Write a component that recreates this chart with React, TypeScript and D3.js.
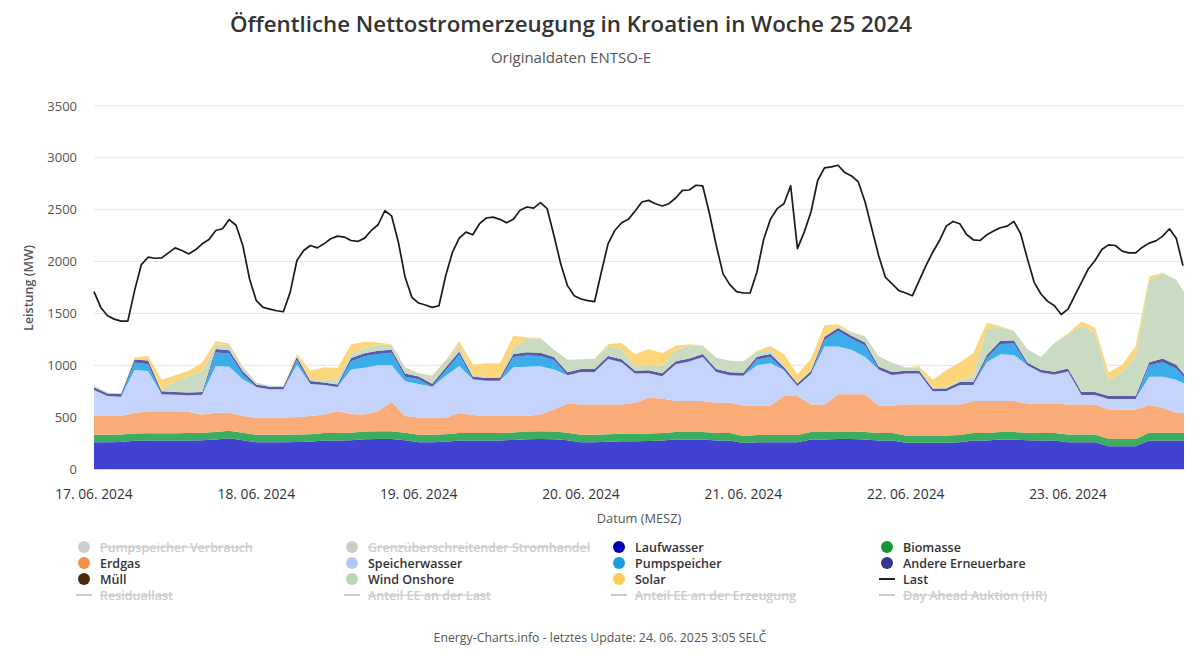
import { useEffect, useRef } from 'react'
import * as d3 from 'd3'

// Woche 25 2024, Kroatien (MW)
const stackStart = new Date(2024, 5, 17, 0)
const stackStepHours = 2
const lastStepHours = 1
const plotEnd = new Date(2024, 5, 23, 17, 9)

const laufwasser = [
  258, 258, 260, 272, 274, 274, 274, 276, 278, 284, 297, 277,
  258, 258, 258, 260, 262, 274, 276, 277, 288, 290, 290, 277,
  258, 258, 262, 274, 274, 276, 276, 280, 288, 290, 288, 277,
  258, 258, 262, 268, 268, 270, 276, 284, 284, 284, 275, 275,
  250, 258, 258, 258, 258, 284, 284, 290, 290, 284, 274, 274,
  252, 252, 252, 252, 258, 274, 274, 284, 284, 278, 276, 276,
  258, 258, 258, 219, 219, 219, 274, 274, 274, 274
]
const biomasse = [
  72, 72, 72, 70, 71, 71, 71, 71, 72, 72, 73, 73,
  72, 72, 72, 72, 72, 72, 72, 73, 74, 75, 75, 73,
  72, 72, 72, 72, 72, 72, 72, 72, 74, 75, 74, 73,
  72, 72, 72, 72, 72, 72, 72, 72, 72, 72, 73, 73,
  68, 71, 71, 71, 71, 72, 72, 72, 72, 72, 72, 72,
  70, 70, 70, 70, 71, 74, 74, 72, 72, 72, 72, 72,
  74, 74, 74, 71, 71, 71, 76, 76, 76, 76
]
const erdgas = [
  180, 180, 180, 200, 213, 213, 213, 203, 176, 186, 172, 160,
  164, 164, 164, 168, 176, 180, 210, 180, 164, 193, 280, 160,
  164, 164, 160, 194, 174, 162, 162, 158, 148, 161, 212, 282,
  293, 293, 289, 283, 299, 345, 332, 299, 299, 299, 291, 291,
  295, 284, 284, 374, 374, 267, 267, 358, 358, 364, 267, 267,
  301, 301, 301, 301, 294, 307, 307, 299, 299, 282, 284, 284,
  291, 291, 291, 284, 284, 284, 267, 240, 192, 190
]
const speicherwasser = [
  251, 193, 185, 413, 387, 162, 157, 160, 189, 452, 443, 355,
  296, 274, 274, 505, 310, 284, 232, 430, 451, 442, 355, 335,
  326, 300, 406, 454, 345, 340, 340, 470, 475, 464, 386, 273,
  312, 312, 437, 407, 281, 236, 215, 355, 381, 425, 296, 266,
  287, 387, 407, 252, 97, 294, 557, 460, 430, 360, 347, 294,
  297, 297, 127, 129, 187, 155, 375, 451, 445, 368, 298, 278,
  317, 91, 91, 101, 101, 101, 273, 300, 318, 260
]
const pumpspeicher = [
  0, 0, 0, 71, 65, 0, 0, 0, 0, 129, 129, 48,
  0, 0, 0, 45, 0, 0, 0, 80, 110, 110, 120, 45,
  45, 0, 50, 110, 0, 0, 0, 100, 110, 100, 90, 0,
  0, 0, 0, 0, 0, 0, 0, 0, 0, 0, 0, 0,
  0, 55, 60, 0, 0, 0, 65, 150, 105, 110, 0, 0,
  0, 0, 0, 0, 0, 0, 40, 100, 110, 0, 0, 0,
  0, 0, 0, 0, 0, 0, 110, 140, 110, 20
]
const andereErneuerbare = [
  28, 25, 25, 30, 35, 30, 28, 28, 28, 35, 30, 30,
  25, 25, 25, 30, 28, 25, 25, 30, 30, 30, 30, 30,
  28, 28, 28, 30, 28, 28, 28, 30, 30, 30, 30, 28,
  28, 28, 30, 28, 28, 28, 28, 28, 30, 28, 28, 28,
  28, 28, 30, 28, 25, 28, 30, 30, 30, 30, 28, 28,
  28, 28, 25, 25, 28, 28, 30, 30, 30, 28, 28, 28,
  28, 28, 28, 28, 28, 28, 30, 35, 35, 30
]
const windOnshore = [
  15, 8, 5, 3, 0, 15, 100, 160, 200, 40, 55, 40,
  20, 10, 8, 5, 10, 20, 60, 40, 50, 60, 45, 60,
  30, 80, 70, 60, 15, 10, 10, 60, 130, 140, 70, 120,
  95, 100, 95, 100, 40, 55, 70, 110, 125, 80, 110, 110,
  110, 45, 40, 15, 5, 10, 10, 15, 30, 60, 100, 90,
  30, 30, 10, 15, 20, 60, 250, 130, 90, 130, 120, 280,
  330, 640, 575, 150, 230, 380, 790, 820, 819, 770
]
const solar = [
  0, 0, 0, 15, 45, 95, 60, 50, 85, 35, 10, 5,
  0, 0, 0, 25, 90, 125, 100, 90, 60, 20, 5, 0,
  0, 0, 0, 40, 100, 130, 130, 114, 13, 5, 0, 0,
  0, 0, 18, 60, 116, 150, 125, 40, 12, 5, 0, 0,
  0, 10, 35, 110, 80, 110, 100, 20, 5, 0, 0, 0,
  0, 15, 75, 160, 168, 220, 60, 10, 0, 0, 0, 0,
  10, 40, 45, 80, 70, 100, 35, 7, 0, 0
]
const last = [
  1710, 1558, 1478, 1445, 1426, 1426, 1720, 1971, 2042, 2032, 2035, 2084, 2132, 2107, 2074, 2113, 2171, 2213, 2300, 2316, 2405, 2350, 2155, 1832,
  1623, 1558, 1542, 1526, 1516, 1703, 2010, 2107, 2155, 2132, 2171, 2220, 2245, 2236, 2203, 2194, 2226, 2300, 2355, 2490, 2440, 2187, 1848, 1655,
  1600, 1581, 1558, 1574, 1865, 2090, 2226, 2284, 2258, 2365, 2420, 2429, 2407, 2374, 2407, 2494, 2526, 2516, 2568, 2510, 2252, 1978, 1768, 1671,
  1639, 1623, 1613, 1897, 2171, 2300, 2374, 2407, 2487, 2574, 2590, 2558, 2536, 2558, 2613, 2687, 2690, 2736, 2729, 2461, 2155, 1881, 1778, 1710,
  1697, 1697, 1897, 2213, 2407, 2510, 2558, 2730, 2125, 2284, 2478, 2784, 2903, 2913, 2929, 2858, 2826, 2768, 2574, 2316, 2058, 1849, 1784, 1720,
  1697, 1671, 1816, 1961, 2090, 2203, 2342, 2387, 2365, 2261, 2210, 2203, 2258, 2294, 2326, 2342, 2387, 2268, 2026, 1800, 1687, 1616, 1574, 1490,
  1542, 1671, 1800, 1929, 2010, 2116, 2161, 2155, 2100, 2084, 2084, 2139, 2178, 2200, 2245, 2316, 2226, 1960
]

const yTicks = [0, 500, 1000, 1500, 2000, 2500, 3000, 3500]

const stackSeries = [
  { key: 'Laufwasser', values: laufwasser, fill: '#4141d2' },
  { key: 'Biomasse', values: biomasse, fill: '#3aad5e' },
  { key: 'Erdgas', values: erdgas, fill: '#f9ab78' },
  { key: 'Speicherwasser', values: speicherwasser, fill: '#c4d4fc' },
  { key: 'Pumpspeicher', values: pumpspeicher, fill: '#3badea' },
  { key: 'Andere Erneuerbare', values: andereErneuerbare, fill: '#5a5aa8' },
  { key: 'Wind Onshore', values: windOnshore, fill: '#c9dcc2' },
  { key: 'Solar', values: solar, fill: '#fdd67c' }
]

// Legende: 4 Spalten, zeilenweise
const legendItems = [
  { name: 'Pumpspeicher Verbrauch', color: '#cccccc', kind: 'dot', hidden: true },
  { name: 'Grenzüberschreitender Stromhandel', color: '#cccccc', kind: 'dot', hidden: true },
  { name: 'Laufwasser', color: '#0000b4', kind: 'dot', hidden: false },
  { name: 'Biomasse', color: '#13973a', kind: 'dot', hidden: false },
  { name: 'Erdgas', color: '#f39149', kind: 'dot', hidden: false },
  { name: 'Speicherwasser', color: '#b2c8f8', kind: 'dot', hidden: false },
  { name: 'Pumpspeicher', color: '#1a9de0', kind: 'dot', hidden: false },
  { name: 'Andere Erneuerbare', color: '#343492', kind: 'dot', hidden: false },
  { name: 'Müll', color: '#4c2c0a', kind: 'dot', hidden: false },
  { name: 'Wind Onshore', color: '#bfd6b2', kind: 'dot', hidden: false },
  { name: 'Solar', color: '#fbcd5a', kind: 'dot', hidden: false },
  { name: 'Last', color: '#222222', kind: 'line', hidden: false },
  { name: 'Residuallast', color: '#cccccc', kind: 'line', hidden: true },
  { name: 'Anteil EE an der Last', color: '#cccccc', kind: 'line', hidden: true },
  { name: 'Anteil EE an der Erzeugung', color: '#cccccc', kind: 'line', hidden: true },
  { name: 'Day Ahead Auktion (HR)', color: '#cccccc', kind: 'line', hidden: true }
]

type Row = { t: Date; [k: string]: number | Date }

export default function App() {
  const svgRef = useRef<SVGSVGElement>(null)

  useEffect(() => {
    if (!svgRef.current) return
    const svg = d3.select(svgRef.current)
    svg.selectAll('*').remove()

    const font = "'Open Sans', 'Noto Sans', sans-serif"
    const left = 94
    const right = 1184
    const top = 106
    const bottom = 469

    const x = d3.scaleTime().domain([stackStart, plotEnd]).range([left, right])
    const y = d3.scaleLinear().domain([0, 3500]).range([bottom, top])

    svg.append('defs').append('clipPath').attr('id', 'plot-clip')
      .append('rect')
      .attr('x', left).attr('y', 0)
      .attr('width', right - left).attr('height', bottom)

    // Gitterlinien
    svg.append('g')
      .selectAll('line')
      .data(yTicks.filter(t => t > 0))
      .join('line')
      .attr('x1', left)
      .attr('x2', right)
      .attr('y1', d => y(d))
      .attr('y2', d => y(d))
      .attr('stroke', '#e6e6e6')
      .attr('stroke-width', 1)

    svg.append('g')
      .selectAll('text')
      .data(yTicks)
      .join('text')
      .attr('x', 77)
      .attr('y', d => y(d) + 4.5)
      .attr('text-anchor', 'end')
      .style('font-family', font)
      .style('font-size', '13px')
      .style('fill', '#555')
      .text(d => d)

    // Gestapelte Flächen
    const rows: Row[] = laufwasser.map((_, i) => {
      const r: Row = { t: d3.timeHour.offset(stackStart, i * stackStepHours) }
      stackSeries.forEach(s => { r[s.key] = s.values[i] })
      return r
    })

    const stack = d3.stack<Row>()
      .keys(stackSeries.map(s => s.key))
      .value((d, k) => d[k] as number)

    const area = d3.area<d3.SeriesPoint<Row>>()
      .x(d => x(d.data.t))
      .y0(d => y(d[0]))
      .y1(d => y(d[1]))

    svg.append('g')
      .attr('clip-path', 'url(#plot-clip)')
      .selectAll('path')
      .data(stack(rows))
      .join('path')
      .attr('fill', (_, i) => stackSeries[i].fill)
      .attr('d', d => area(d) || '')

    // x-Achse
    svg.append('line')
      .attr('x1', left)
      .attr('x2', right)
      .attr('y1', bottom + 0.5)
      .attr('y2', bottom + 0.5)
      .attr('stroke', '#ccd6eb')

    const days = d3.timeDay.range(stackStart, plotEnd)
    const fmt = d3.timeFormat('%d. %m. %Y')
    svg.append('g')
      .selectAll('text')
      .data(days)
      .join('text')
      .attr('x', d => x(d))
      .attr('y', 499)
      .attr('text-anchor', 'middle')
      .style('font-family', font)
      .style('font-size', '13.8px')
      .style('fill', '#333')
      .text(d => fmt(d))

    // Last
    const line = d3.line<number>()
      .x((_, i) => x(d3.timeHour.offset(stackStart, i * lastStepHours)))
      .y(d => y(d))

    svg.append('path')
      .attr('d', line(last) || '')
      .attr('fill', 'none')
      .attr('stroke', '#1a1a1a')
      .attr('stroke-width', 1.7)
      .attr('stroke-linejoin', 'round')

    // Titel
    svg.append('text')
      .attr('x', 571)
      .attr('y', 32)
      .attr('text-anchor', 'middle')
      .style('font-family', font)
      .style('font-size', '22.3px')
      .style('font-weight', 600)
      .style('fill', '#333')
      .text('Öffentliche Nettostromerzeugung in Kroatien in Woche 25 2024')

    svg.append('text')
      .attr('x', 571)
      .attr('y', 63)
      .attr('text-anchor', 'middle')
      .style('font-family', font)
      .style('font-size', '15px')
      .style('fill', '#555')
      .text('Originaldaten ENTSO-E')

    svg.append('text')
      .attr('transform', `translate(33, 288) rotate(-90)`)
      .attr('text-anchor', 'middle')
      .style('font-family', font)
      .style('font-size', '12.5px')
      .style('font-weight', 600)
      .style('fill', '#555')
      .text('Leistung (MW)')

    svg.append('text')
      .attr('x', 639)
      .attr('y', 523)
      .attr('text-anchor', 'middle')
      .style('font-family', font)
      .style('font-size', '12.8px')
      .style('fill', '#555')
      .text('Datum (MESZ)')

    // Legende
    const colX = [84, 352, 619, 887]
    const rowY = [547, 563, 579, 595]
    const lg = svg.append('g')
    legendItems.forEach((item, i) => {
      const cx = colX[i % 4]
      const cy = rowY[Math.floor(i / 4)]
      if (item.kind === 'dot') {
        lg.append('circle').attr('cx', cx).attr('cy', cy).attr('r', 6).attr('fill', item.color)
      } else {
        lg.append('line')
          .attr('x1', cx - 8).attr('x2', cx + 8)
          .attr('y1', cy).attr('y2', cy)
          .attr('stroke', item.color).attr('stroke-width', 2)
      }
      lg.append('text')
        .attr('x', cx + 16)
        .attr('y', cy + 4.5)
        .style('font-family', font)
        .style('font-size', '12.5px')
        .style('font-weight', 600)
        .style('fill', item.hidden ? '#cccccc' : '#333333')
        .style('text-decoration', item.hidden ? 'line-through' : 'none')
        .text(item.name)
    })

    svg.append('text')
      .attr('x', 600)
      .attr('y', 642)
      .attr('text-anchor', 'middle')
      .style('font-family', font)
      .style('font-size', '12.3px')
      .style('fill', '#555')
      .text('Energy-Charts.info - letztes Update: 24. 06. 2025 3:05 SELČ')
  }, [])

  return (
    <svg
      ref={svgRef}
      width={1200}
      height={666}
      style={{ position: 'absolute', left: 0, top: 0, background: '#fff' }}
    />
  )
}
